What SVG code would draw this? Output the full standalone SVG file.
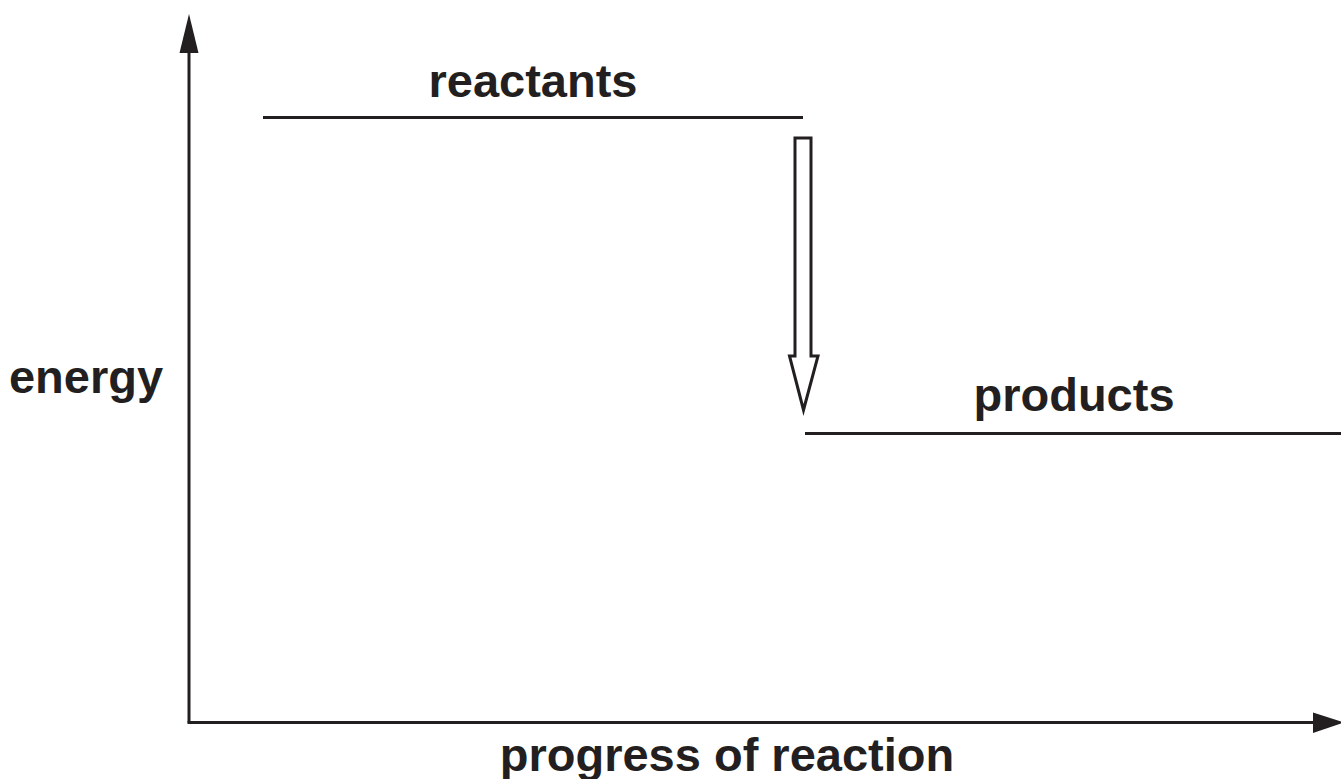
<svg xmlns="http://www.w3.org/2000/svg" width="1341" height="779" viewBox="0 0 1341 779">
<style>
.lbl{font-family:"Liberation Sans",Arial,sans-serif;font-weight:bold;font-size:47px;fill:#231f20}
.ln{stroke:#231f20;stroke-width:3;fill:none}
.head{fill:#231f20}
</style>
<rect width="1341" height="779" fill="#ffffff"/>
<g id="connectors">
<line class="ln" x1="189" y1="722.5" x2="189" y2="50"/>
<polygon class="head" points="189,14 179.5,53 198.5,53"/>
<line class="ln" x1="187.5" y1="722.5" x2="1316" y2="722.5"/>
<polygon class="head" points="1344,722.5 1313,712.5 1313,733"/>
<polygon class="ln" stroke-width="2.6" points="795,138 811,138 811,356 818,356 803.5,410 789.5,356 795,356"/>
</g>
<g id="reactants">
<line class="ln" x1="263" y1="117.5" x2="803" y2="117.5"/>
<text class="lbl" x="533" y="97" text-anchor="middle">reactants</text>
</g>
<g id="products">
<line class="ln" x1="805" y1="433.5" x2="1341" y2="433.5"/>
<text class="lbl" x="1074" y="411" text-anchor="middle">products</text>
</g>
<g id="energy">
<text class="lbl" x="86" y="393" text-anchor="middle">energy</text>
</g>
<g id="progress">
<text class="lbl" x="727" y="771" text-anchor="middle">progress of reaction</text>
</g>
</svg>
